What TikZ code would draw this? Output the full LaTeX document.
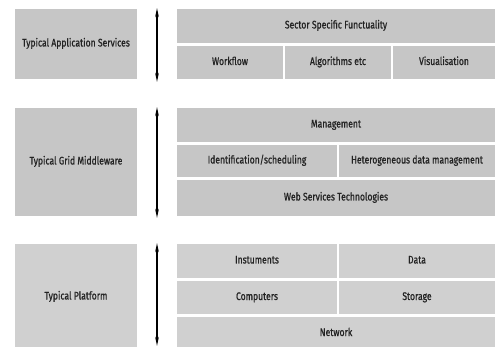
\documentclass[tikz,border=0pt]{standalone}
\usepackage{fontspec}
\setmainfont{Fira Sans}[FakeStretch=0.78, FakeBold=0.8]
\usetikzlibrary{arrows.meta}
\definecolor{boxgrey}{HTML}{C6C6C6}
\definecolor{boxlight}{HTML}{D0D0D0}
\definecolor{inkgrey}{HTML}{222222}
\tikzset{
  cell/.style 2 args={fill=boxgrey, draw=none, inner sep=0pt, text=inkgrey,
               font=\fontsize{11}{13}\selectfont, align=center,
               text height=0.72em, text depth=0.22em,
               minimum width=#1pt, minimum height=#2pt},
  lightcell/.style 2 args={cell={#1}{#2}, fill=boxlight},
  span/.style={<->, line width=1.4pt, black,
               >={Stealth[length=9pt,width=3.6pt]}}
}
\begin{document}
\begin{tikzpicture}[x=1pt,y=-1pt]
\useasboundingbox (0,0) rectangle (495,347);

% application layer
\node[cell={122}{70}] (app) at (76,44) {Typical Application Services};
\node[cell={318}{34}] (sector) at (336,26) {Sector Specific Functuality};
\node[cell={106}{33}] (workflow) at (230,62.5) {Workflow};
\node[cell={106}{33}] (algo) at (338,62.5) {Algorithms etc};
\node[cell={102}{33}] (vis) at (444,62.5) {Visualisation};
\coordinate (appTop) at (157,8);
\coordinate (appBot) at (157,82);
\draw[span] (appTop) -- (appBot);

% middleware layer
\node[cell={122}{108}] (mid) at (76,162) {Typical Grid Middleware};
\node[cell={318}{34}] (mgmt) at (336,125) {Management};
\node[cell={160}{32}] (ident) at (257,161) {Identification/scheduling};
\node[cell={156}{32}] (hetero) at (417,161) {Heterogeneous data management};
\node[cell={318}{36}] (ws) at (336,198) {Web Services Technologies};
\coordinate (midTop) at (157,107);
\coordinate (midBot) at (157,218);
\draw[span] (midTop) -- (midBot);

% platform layer
\node[lightcell={122}{106}] (plat) at (76,297) {Typical Platform};
\node[lightcell={160}{34}] (inst) at (257,261) {Instuments};
\node[lightcell={156}{34}] (data) at (417,261) {Data};
\node[lightcell={160}{33}] (comp) at (257,297.5) {Computers};
\node[lightcell={156}{33}] (stor) at (417,297.5) {Storage};
\node[lightcell={318}{33}] (net) at (336,333.5) {Network};
\coordinate (platTop) at (157,243);
\coordinate (platBot) at (157,346);
\draw[span] (platTop) -- (platBot);
\end{tikzpicture}
\end{document}
